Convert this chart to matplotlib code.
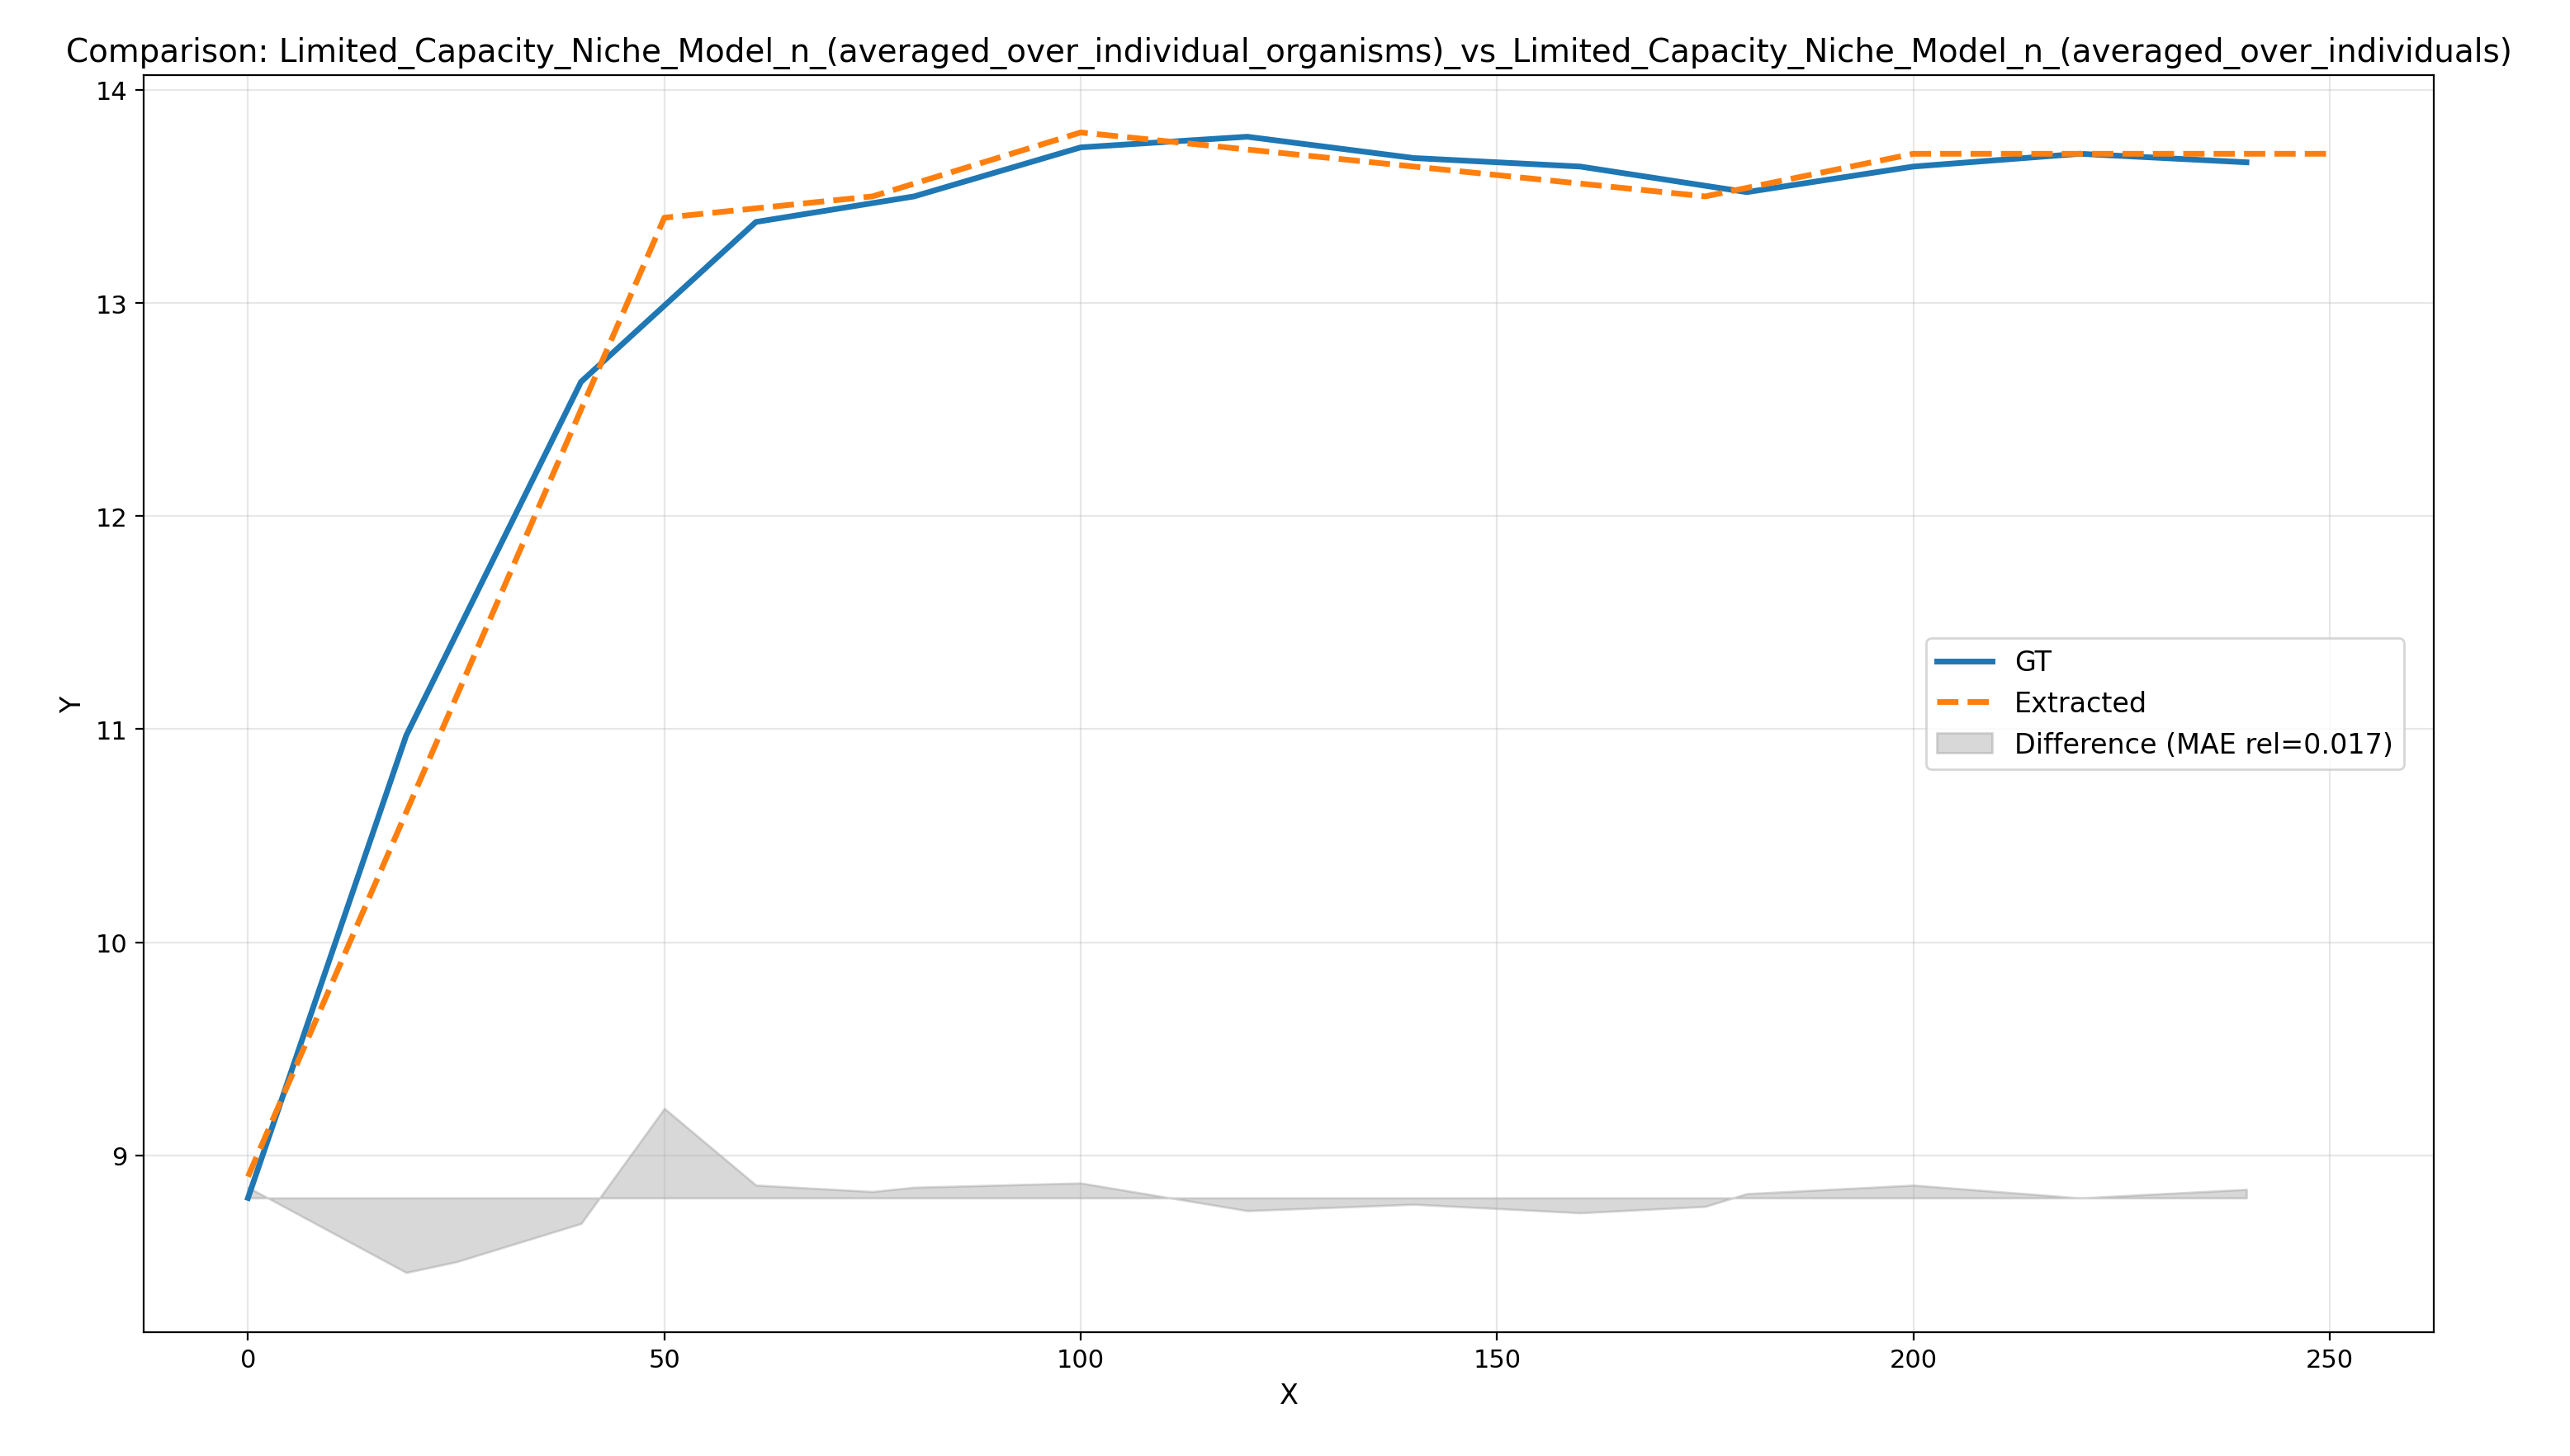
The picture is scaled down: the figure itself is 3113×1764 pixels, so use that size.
import matplotlib
matplotlib.use("Agg")
import matplotlib.pyplot as plt

gt_x = [0, 19, 40, 61, 80, 100, 120, 140, 160, 180, 200, 220, 240]
gt_y = [8.8, 10.97, 12.63, 13.38, 13.5, 13.73, 13.78, 13.68, 13.64, 13.52, 13.64, 13.7, 13.66]

ex_x = [0, 50, 75, 100, 125, 150, 175, 200, 225, 250]
ex_y = [8.9, 13.4, 13.5, 13.8, 13.7, 13.6, 13.5, 13.7, 13.7, 13.7]

diff_x = [0, 19, 25, 40, 50, 61, 75, 80, 100, 120, 140, 160, 175, 180, 200, 220, 240]
diff_y = [8.85, 8.45, 8.5, 8.68, 9.22, 8.86, 8.83, 8.85, 8.87, 8.74, 8.77, 8.73, 8.76, 8.82, 8.86, 8.8, 8.84]
base = 8.8

fig, ax = plt.subplots(figsize=(15.565, 8.825), dpi=200)
ax.plot(gt_x, gt_y, color="#1f77b4", lw=2.5, label="GT")
ax.plot(ex_x, ex_y, color="#ff7f0e", lw=2.5, ls="--", label="Extracted")
ax.fill_between(diff_x, base, diff_y, color="gray", alpha=0.3, label="Difference (MAE rel=0.017)")
ax.set_xlabel("X", fontsize=12)
ax.set_ylabel("Y", fontsize=12)
ax.set_ylim(8.17, 14.07)
ax.tick_params(labelsize=11)
ax.grid(True, alpha=0.3)
ax.legend(loc="center right", fontsize=12, bbox_to_anchor=(0.993, 0.5))
ax.set_title("Comparison: Limited_Capacity_Niche_Model_n_(averaged_over_individual_organisms)"
             "_vs_Limited_Capacity_Niche_Model_n_(averaged_over_individuals)", fontsize=14)
fig.subplots_adjust(left=0.056, right=0.947, top=0.948, bottom=0.085)
fig.savefig("out.png")
